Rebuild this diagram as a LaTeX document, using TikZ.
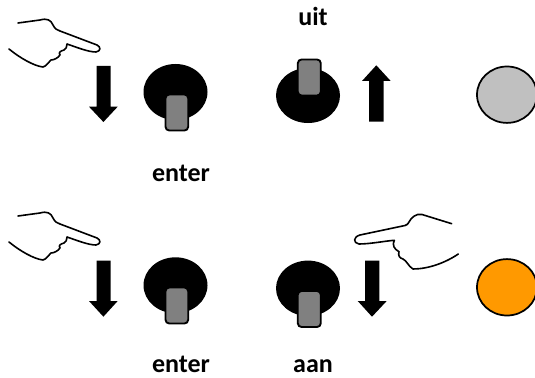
\documentclass[tikz,border=0pt]{standalone}
\usepackage{fontspec}
\setmainfont{Carlito}
\tikzset{
  x=0.75pt,y=-0.75pt,
  lbl/.style={font=\fontsize{19.5pt}{22pt}\selectfont\bfseries,text=black,inner sep=0pt,anchor=base},
  lever/.style={draw=black,line width=1.4pt,fill=gray50,rounded corners=2.8pt},
  lamp/.style={draw=black,line width=1.3pt},
  arrowshape/.style={fill=black,draw=none},
  handline/.style={draw=black,line width=1.2pt,line cap=round,line join=round}
}
\definecolor{gray50}{HTML}{808080}
\definecolor{lampoff}{HTML}{C0C0C0}
\definecolor{lampon}{HTML}{FF9900}
\newcommand{\handL}[1]{%
  \begin{scope}[shift={(0,#1)}]
  \draw[handline] (18,23) -- (40,20) .. controls (47,18) and (51,20) .. (53,25)
    .. controls (55,29) and (57,30) .. (60,31) -- (97,45)
    .. controls (101,47) and (101,51) .. (96,52) .. controls (88,52) and (76,47) .. (67,44)
    .. controls (66,47) and (67,49) .. (64,50) .. controls (61,51) and (58,52) .. (60,55)
    .. controls (58,58) and (54,60) .. (51,60) .. controls (48,62) and (47,66) .. (43,67)
    .. controls (34,66) and (20,58) .. (9,49);
  \end{scope}}
\newcommand{\handR}{%
  \draw[handline] (451.7,223.7) -- (422,214.5) .. controls (416,213) and (411,218) .. (409,222)
    .. controls (408,224) and (407,225) .. (405,225.5) -- (360,235)
    .. controls (353,237) and (353,243) .. (359,244) .. controls (370,244) and (385,241) .. (394.3,240.3)
    .. controls (392,245) and (394,249) .. (399,251.7) .. controls (398,255) and (399,258) .. (403,259)
    .. controls (407,261) and (408,266) .. (413,269) .. controls (428,269) and (445,263) .. (458.3,254);
  }
\begin{document}
\begin{tikzpicture}
\useasboundingbox (0,0) rectangle (535,378);
% hands
\handL{0}
\handL{193}
\handR
% arrows
\fill[arrowshape] (96.7,66) -- (110.7,66) -- (110.7,106.7) -- (117.7,106.7) -- (103.4,122) -- (89,106.7) -- (96.7,106.7) -- cycle;
\fill[arrowshape] (96.7,260.7) -- (110.7,260.7) -- (110.7,301) -- (117.7,301) -- (103.4,316.7) -- (89,301) -- (96.7,301) -- cycle;
\fill[arrowshape] (369,121.7) -- (383.7,121.7) -- (383.7,81) -- (390.7,81) -- (376.3,65.3) -- (362,81) -- (369,81) -- cycle;
\fill[arrowshape] (365,260.7) -- (379.3,260.7) -- (379.3,301) -- (386.7,301) -- (372,316.7) -- (357.7,301) -- (365,301) -- cycle;
% knobs
\fill[black] (175.5,92) ellipse [x radius=32,y radius=28];
\draw[lever] (165.5,94.5) rectangle (188.2,130.5);
\fill[black] (175.5,285.3) ellipse [x radius=32,y radius=28];
\draw[lever] (165.5,287.5) rectangle (188.2,323.5);
\fill[black] (308,95.5) ellipse [x radius=32,y radius=27.5];
\draw[lever] (297.8,59.5) rectangle (320.8,95.5);
\fill[black] (308,288.3) ellipse [x radius=32,y radius=27.7];
\draw[lever] (297.8,291) rectangle (320.8,327);
% lamps
\draw[lamp,fill=lampoff] (507,94.7) ellipse [x radius=30,y radius=28.2];
\draw[lamp,fill=lampon] (507,287.3) ellipse [x radius=30,y radius=28.2];
% labels
\node[lbl] (uit) at (313,26) {uit};
\node[lbl] (enter1) at (181,181.7) {enter};
\node[lbl] (enter2) at (181,372.7) {enter};
\node[lbl] (aan) at (313,372.7) {aan};
\end{tikzpicture}
\end{document}
